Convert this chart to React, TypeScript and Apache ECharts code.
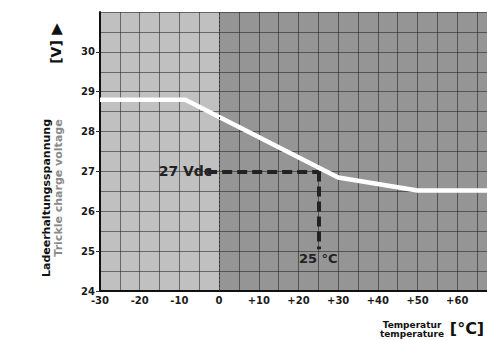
import React, { useEffect, useRef } from "react";
import * as echarts from "echarts";

const temps = [-30, -8.5, 30, 50, 67.5];
const volts = [28.8, 28.8, 26.85, 26.52, 26.52];
const refTemp = 25;
const refVolt = 27;
const refLabelV = "27 Vdc";
const refLabelT = "25 °C";
const yName1 = "Ladeerhaltungsspannung";
const yName2 = "Trickle charge voltage";
const yUnit = "[V]";
const xName1 = "Temperatur";
const xName2 = "temperature";
const xUnit = "[°C]";

const FONT = "'DejaVu Sans', 'Liberation Sans', sans-serif";

export default function App() {
  const ref = useRef<HTMLDivElement>(null);
  useEffect(() => {
    document.body.style.margin = "0";
    const chart = echarts.init(ref.current!, null, { renderer: "svg" });
    const gridLine = { show: true, lineStyle: { color: "rgba(30,30,30,0.55)", width: 1 } };
    chart.setOption({
      animation: false,
      backgroundColor: "#ffffff",
      grid: { left: 100, top: 12, right: 0, height: 279, show: true, backgroundColor: "#959595", borderWidth: 0 },
      xAxis: {
        type: "value",
        min: -30,
        max: 67.5,
        interval: 5,
        z: 2,
        axisLine: { show: true, onZero: false, lineStyle: { color: "#111", width: 2 } },
        axisTick: { show: false },
        axisLabel: {
          color: "#1a1a1a",
          fontFamily: FONT,
          fontWeight: "bold",
          fontSize: 10,
          margin: 4,
          showMaxLabel: false,
          formatter: (v: number) => (v % 10 !== 0 ? "" : v > 0 ? "+" + v : String(v)),
        },
        splitLine: gridLine,
      },
      yAxis: {
        type: "value",
        min: 24,
        max: 31,
        interval: 1,
        z: 2,
        axisLine: { show: true, onZero: false, lineStyle: { color: "#111", width: 2 } },
        axisTick: { show: true, length: 4, lineStyle: { color: "#333" } },
        axisLabel: {
          color: "#1a1a1a",
          fontFamily: FONT,
          fontWeight: "bold",
          fontSize: 10,
          margin: 5,
          showMaxLabel: false,
        },
        splitLine: gridLine,
        minorTick: { show: false, splitNumber: 2 },
        minorSplitLine: gridLine,
      },
      series: [
        {
          type: "line",
          z: 1,
          data: [],
          markArea: {
            silent: true,
            itemStyle: { color: "#c0c0c0" },
            data: [[{ xAxis: -30 }, { xAxis: 0 }]],
          },
        },
        {
          type: "line",
          z: 3,
          data: temps.map((t, i) => [t, volts[i]]),
          symbol: "none",
          lineStyle: { color: "#ffffff", width: 4.5 },
          markLine: {
            silent: true,
            symbol: "none",
            animation: false,
            data: [
              [
                { coord: [0, 24], lineStyle: { color: "#333", width: 1, type: [2, 2] }, label: { show: false } },
                { coord: [0, 31] },
              ],
              [
                {
                  coord: [-3, refVolt],
                  lineStyle: { color: "#222", width: 4, type: [10, 5] },
                  label: {
                    show: true,
                    position: "start",
                    formatter: refLabelV,
                    color: "#222",
                    fontFamily: FONT,
                    fontWeight: "bold",
                    fontSize: 14,
                    distance: -5,
                  },
                },
                { coord: [refTemp, refVolt] },
              ],
              [
                {
                  coord: [refTemp, refVolt],
                  lineStyle: { color: "#222", width: 4, type: [10, 5] },
                  label: {
                    show: true,
                    position: "end",
                    formatter: refLabelT,
                    color: "#222",
                    fontFamily: FONT,
                    fontWeight: "bold",
                    fontSize: 13,
                    distance: 3,
                  },
                },
                { coord: [refTemp, 25.05] },
              ],
            ],
          },
        },
      ],
      graphic: [
        {
          type: "text",
          x: 46,
          y: 198,
          rotation: Math.PI / 2,
          style: {
            text: yName1,
            fill: "#111",
            font: `bold 11px ${FONT}`,
            align: "center",
            verticalAlign: "middle",
          },
        },
        {
          type: "text",
          x: 58,
          y: 188,
          rotation: Math.PI / 2,
          style: {
            text: yName2,
            fill: "#8a8a8a",
            font: `bold 11px ${FONT}`,
            align: "center",
            verticalAlign: "middle",
          },
        },
        {
          type: "text",
          x: 56,
          y: 52,
          rotation: Math.PI / 2,
          style: {
            text: yUnit,
            fill: "#111",
            font: `bold 14px ${FONT}`,
            align: "center",
            verticalAlign: "middle",
          },
        },
        {
          type: "text",
          x: 57,
          y: 28,
          style: {
            text: "▲",
            fill: "#111",
            font: `15px 'DejaVu Sans', sans-serif`,
            align: "center",
            verticalAlign: "middle",
          },
        },
        {
          type: "text",
          x: 412,
          y: 325,
          style: {
            text: xName1,
            fill: "#111",
            font: `bold 9px ${FONT}`,
            align: "center",
            verticalAlign: "middle",
          },
        },
        {
          type: "text",
          x: 412,
          y: 334,
          style: {
            text: xName2,
            fill: "#111",
            font: `bold 9px ${FONT}`,
            align: "center",
            verticalAlign: "middle",
          },
        },
        {
          type: "text",
          x: 467,
          y: 328,
          style: {
            text: xUnit,
            fill: "#111",
            font: `bold 16px ${FONT}`,
            align: "center",
            verticalAlign: "middle",
          },
        },
      ],
    });
    return () => chart.dispose();
  }, []);
  return <div ref={ref} style={{ width: 487, height: 340 }} />;
}
